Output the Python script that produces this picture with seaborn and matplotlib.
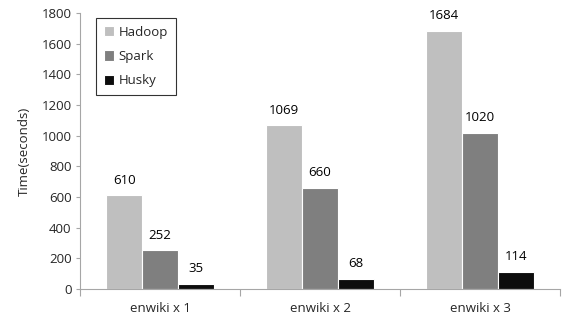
import matplotlib
matplotlib.use('Agg')
import matplotlib.pyplot as plt
import pandas as pd
import seaborn as sns

# Chart data
datasets = ['enwiki x 1', 'enwiki x 2', 'enwiki x 3']
systems = ['Hadoop', 'Spark', 'Husky']
hadoop = [610, 1069, 1684]
spark = [252, 660, 1020]
husky = [35, 68, 114]
colors = ['#BFBFBF', '#7F7F7F', '#0D0D0D']

df = pd.DataFrame({
    'dataset': datasets * 3,
    'system': [s for s in systems for _ in datasets],
    'time': hadoop + spark + husky,
})

sns.set_style('white')
plt.rcParams['font.family'] = ['Open Sans', 'DejaVu Sans']

fig = plt.figure(figsize=(5.88, 3.16), dpi=100)
ax = fig.add_axes([80 / 588, 1 - 289 / 316, 480 / 588, 276 / 316])

sns.barplot(data=df, x='dataset', y='time', hue='system', order=datasets,
            hue_order=systems, palette=colors, width=0.67, edgecolor='white',
            linewidth=0.8, ax=ax)

for c in ax.containers:
    ax.bar_label(c, padding=6, fontsize=9.5, color='black')

ax.set_ylim(0, 1800)
ax.set_yticks(range(0, 1801, 200))
ax.set_xlim(-0.5, 2.5)
ax.set_xticks([-0.5, 0.5, 1.5, 2.5])
ax.set_xticklabels([])
ax.set_xticks([0, 1, 2], minor=True)
ax.set_xticklabels(datasets, minor=True)
ax.tick_params(axis='x', which='major', length=5, color='#A6A6A6', width=0.8, direction='out', bottom=True)
ax.tick_params(axis='x', which='minor', length=0, pad=9, labelsize=9.5)
ax.tick_params(axis='y', length=3, color='#A6A6A6', width=0.8, direction='out', left=True, labelsize=9.5, pad=3)

ax.set_xlabel('')
ax.set_ylabel('Time(seconds)', fontsize=9.5, labelpad=8)

for side in ['top', 'right']:
    ax.spines[side].set_visible(False)
for side in ['left', 'bottom']:
    ax.spines[side].set_color('#A6A6A6')
    ax.spines[side].set_linewidth(0.8)

leg = ax.legend(loc='upper left', bbox_to_anchor=(0.033, 0.982), borderaxespad=0,
                fontsize=9.5, frameon=True, fancybox=False, handlelength=0.8,
                handleheight=0.8, handletextpad=0.3, labelspacing=0.85, borderpad=0.6)
leg.get_frame().set_edgecolor('black')
leg.get_frame().set_linewidth(0.8)

fig.savefig('out.png', dpi=100)
